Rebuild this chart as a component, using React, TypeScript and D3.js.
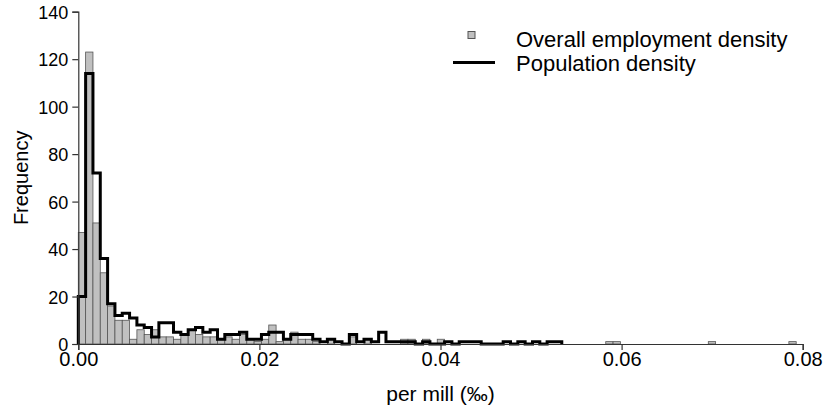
import React, { useEffect, useRef } from 'react';
import * as d3 from 'd3';

// bin width in per mill units (histogram bins start at 0)
const binWidth = 0.000809;

// overall employment density, count per bin
const employmentCounts = [
  47, 123, 51, 30, 16, 10, 10, 2, 6, 4,
  6, 3, 3, 2, 4, 6, 4, 3, 3, 2,
  3, 2, 4, 2, 1, 2, 8, 1, 2, 5,
  2, 2, 1, 0, 2, 0, 0, 3, 0, 2,
  0, 0, 0, 0, 2, 2, 0, 2, 0, 2,
  0, 0, 0, 0, 0, 0, 0, 0, 0, 0,
  0, 0, 0, 0, 0, 0, 0, 0, 0, 0,
  0, 0, 1, 1, 0, 0, 0, 0, 0, 0,
  0, 0, 0, 0, 0, 0, 1, 0, 0, 0,
  0, 0, 0, 0, 0, 0, 0, 1,
];

// population density, count per bin
const populationCounts = [
  20, 114, 72, 36, 17, 12, 13, 11, 8, 7,
  3, 9, 9, 5, 4, 6, 7, 5, 6, 2,
  4, 4, 5, 2, 2, 4, 5, 5, 2, 4,
  4, 4, 2, 1, 2, 1, 0, 4, 1, 2,
  1, 5, 1, 1, 1, 1, 0, 1, 0, 0,
  1, 0, 1, 1, 1, 0, 0, 0, 1, 0,
  1, 0, 1, 0, 1, 1,
];

const xTicks = [0, 0.02, 0.04, 0.06, 0.08];
const yTicks = [0, 20, 40, 60, 80, 100, 120, 140];
const seriesNames = ['Overall employment density', 'Population density'];

const W = 827;
const H = 411;
const margin = { left: 78.3, right: 24.3, top: 11.7, bottom: 67 };
const font = '"Liberation Sans", Arial, sans-serif';

const App = () => {
  const ref = useRef<SVGSVGElement>(null);

  useEffect(() => {
    const svg = d3.select(ref.current);
    svg.selectAll('*').remove();

    const x = d3.scaleLinear().domain([0, 0.08]).range([margin.left, W - margin.right]);
    const y = d3.scaleLinear().domain([0, 140]).range([H - margin.bottom, margin.top]);

    // gray histogram bars (empty bins skipped)
    const bars = employmentCounts
      .map((v, i) => ({ v, i }))
      .filter((d) => d.v > 0);
    svg
      .append('g')
      .selectAll('rect')
      .data(bars)
      .enter()
      .append('rect')
      .attr('x', (d) => x(d.i * binWidth))
      .attr('y', (d) => y(d.v))
      .attr('width', (d) => x((d.i + 1) * binWidth) - x(d.i * binWidth))
      .attr('height', (d) => y(0) - y(d.v))
      .attr('fill', '#c0c0c0')
      .attr('stroke', '#555')
      .attr('stroke-width', 0.8);

    // population step line
    const pts: [number, number][] = [[0, 0]];
    populationCounts.forEach((v, i) => {
      pts.push([i * binWidth, v]);
      pts.push([(i + 1) * binWidth, v]);
    });
    pts.push([populationCounts.length * binWidth, 0]);
    const line = d3
      .line<[number, number]>()
      .x((d) => x(d[0]))
      .y((d) => y(d[1]));
    svg
      .append('path')
      .attr('d', line(pts))
      .attr('fill', 'none')
      .attr('stroke', '#000')
      .attr('stroke-width', 3);

    // axes
    const xAxis = svg
      .append('g')
      .attr('transform', `translate(0,${y(0)})`)
      .call(d3.axisBottom(x).tickValues(xTicks).tickFormat(d3.format('.2f')).tickSize(6).tickPadding(2));
    const yAxis = svg
      .append('g')
      .attr('transform', `translate(${x(0)},0)`)
      .call(d3.axisLeft(y).tickValues(yTicks).tickSize(6).tickPadding(4));
    [xAxis, yAxis].forEach((g) => {
      g.select('.domain').attr('stroke', '#333').attr('stroke-width', 1.2);
      g.selectAll('.tick line').attr('stroke', '#333').attr('stroke-width', 1.2);
      g.selectAll('.tick text').attr('fill', '#000').style('font-family', font);
    });
    xAxis.selectAll('.tick text').style('font-size', '20px');
    yAxis.selectAll('.tick text').style('font-size', '18px').attr('dy', '0.36em');

    // axis titles
    svg
      .append('text')
      .attr('x', x(0.04))
      .attr('y', 401)
      .attr('text-anchor', 'middle')
      .style('font-family', font)
      .style('font-size', '21px')
      .text('per mill (‰)');
    svg
      .append('text')
      .attr('transform', `translate(28,${y(70)}) rotate(-90)`)
      .attr('text-anchor', 'middle')
      .style('font-family', font)
      .style('font-size', '20px')
      .text('Frequency');

    // legend
    const lg = svg.append('g');
    lg.append('rect')
      .attr('x', 468)
      .attr('y', 31.5)
      .attr('width', 7)
      .attr('height', 7)
      .attr('fill', '#c0c0c0')
      .attr('stroke', '#555')
      .attr('stroke-width', 1);
    lg.append('line')
      .attr('x1', 453)
      .attr('x2', 495)
      .attr('y1', 62.5)
      .attr('y2', 62.5)
      .attr('stroke', '#000')
      .attr('stroke-width', 3);
    lg.selectAll('text')
      .data(seriesNames)
      .enter()
      .append('text')
      .attr('x', 516)
      .attr('y', (d, i) => 47 + i * 24)
      .style('font-family', font)
      .style('font-size', '22px')
      .text((d) => d);
  }, []);

  return (
    <svg
      ref={ref}
      width={W}
      height={H}
      style={{ position: 'absolute', left: 0, top: 0, background: '#fff' }}
    />
  );
};

export default App;
